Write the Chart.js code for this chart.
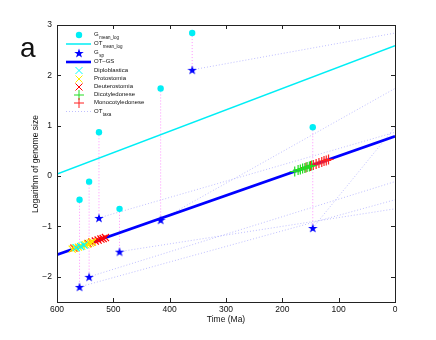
<!DOCTYPE html>
<html>
<head>
<meta charset="utf-8">
<script src="https://cdn.jsdelivr.net/npm/chart.js@4.4.0/dist/chart.umd.min.js"></script>
<style>
  html, body { margin: 0; padding: 0; background: #fff; }
  #wrap { position: relative; width: 436px; height: 340px; }
</style>
</head>
<body>
<div id="wrap"><canvas id="chart"></canvas></div>
<script>
// origin time of each taxon (Ma), mean log genome size today, and G_sp at origin
const originTimes = [560, 543, 525.5, 489, 416, 360, 146];
const gMeanLog = [-0.47, -0.11, 0.87, -0.65, 1.74, 2.84, 0.97];
const gSp = [-2.20, -2.00, -0.83, -1.50, -0.87, 2.11, -1.03];

// the two fitted lines, given at their ends
const fitTimes = [600, 0];
const otMeanLog = [0.04, 2.59];
const otGs = [-1.56, 0.79];

// species points along OT-GS
const diploTimes = [566, 558, 552];
const diploValues = [-1.42, -1.40, -1.37];
const protoTimes = [573, 568, 562, 556, 550, 546, 541, 537];
const protoValues = [-1.45, -1.43, -1.41, -1.39, -1.36, -1.35, -1.33, -1.31];
const deuteroTimes = [570, 545, 538, 532, 527, 522, 518, 514];
const deuteroValues = [-1.43, -1.34, -1.31, -1.29, -1.27, -1.25, -1.24, -1.22];
const dicotTimes = [178, 172, 168, 164, 160, 156, 152, 148];
const dicotValues = [0.09, 0.12, 0.13, 0.15, 0.16, 0.18, 0.19, 0.21];
const monocotTimes = [158, 150, 145, 140, 135, 130, 126, 122, 118];
const monocotValues = [0.17, 0.20, 0.22, 0.24, 0.26, 0.28, 0.30, 0.31, 0.33];

const xTicks = [600, 500, 400, 300, 200, 100, 0];
const yTicks = [-2, -1, 0, 1, 2, 3];

const legendLabels = [
  ['G', 'mean_log'], ['OT', 'mean_log'], ['G', 'sp'], ['OT\u2013GS', ''],
  ['Diploblastica', ''], ['Protostomia', ''], ['Deuterostomia', ''],
  ['Dicotyledonese', ''], ['Monocotyledonese', ''], ['OT', 'taxa']
];

const CYAN = 'rgb(0,238,245)';
const BLUE = '#0000ff';
const TAXA = 'rgba(170,170,255,0.75)';
const PINK = 'rgba(255,120,255,0.8)';
const FONT = '"Liberation Sans", Arial, Helvetica, sans-serif';

function pts(xs, ys) { return xs.map((x, i) => ({ x: x, y: ys[i] })); }

function starImage(size, color) {
  const c = document.createElement('canvas');
  c.width = c.height = size;
  const g = c.getContext('2d');
  g.fillStyle = color;
  g.beginPath();
  for (let i = 0; i < 10; i++) {
    const r = i % 2 ? size * 0.2 : size / 2;
    const a = -Math.PI / 2 + i * Math.PI / 5;
    g.lineTo(size / 2 + r * Math.cos(a), size / 2 + 0.5 + r * Math.sin(a));
  }
  g.closePath();
  g.fill();
  return c;
}
const star = starImage(10, BLUE);

const datasets = [];

// OT_taxa dotted lines: from (origin, G_sp) to (0, G_mean_log)
originTimes.forEach((t, i) => {
  datasets.push({
    data: [{ x: t, y: gSp[i] }, { x: 0, y: gMeanLog[i] }],
    showLine: true, borderColor: TAXA, borderWidth: 1, borderDash: [1, 2],
    pointRadius: 0, order: 9
  });
  // pink connectors between G_mean_log and G_sp
  datasets.push({
    data: [{ x: t, y: gMeanLog[i] }, { x: t, y: gSp[i] }],
    showLine: true, borderColor: PINK, borderWidth: 1, borderDash: [1, 2],
    pointRadius: 0, order: 8
  });
});

datasets.push({
  data: pts(fitTimes, otMeanLog), showLine: true, borderColor: CYAN,
  borderWidth: 1.5, pointRadius: 0, order: 6
});
datasets.push({
  data: pts(fitTimes, otGs), showLine: true, borderColor: BLUE,
  borderWidth: 2.6, pointRadius: 0, order: 6
});
datasets.push({
  data: pts(originTimes, gMeanLog), pointStyle: 'circle', pointRadius: 3.2,
  backgroundColor: CYAN, borderColor: CYAN, borderWidth: 0, order: 2
});
datasets.push({
  data: pts(originTimes, gSp), pointStyle: star, order: 2
});

function markers(xs, ys, style, r, color) {
  return {
    data: pts(xs, ys), pointStyle: style, pointRadius: r,
    borderColor: color, backgroundColor: color, pointBorderWidth: 1.2, order: 1
  };
}
datasets.push(markers(diploTimes, diploValues, 'crossRot', 5, '#00ffff'));
datasets.push(markers(protoTimes, protoValues, 'crossRot', 5, '#ffee00'));
datasets.push(markers(deuteroTimes, deuteroValues, 'crossRot', 5, '#ff0000'));
datasets.push(markers(dicotTimes, dicotValues, 'cross', 5, '#22dd22'));
datasets.push(markers(monocotTimes, monocotValues, 'cross', 5, '#ff2020'));

const framePlugin = {
  id: 'frame',
  afterDraw(chart) {
    const { ctx, chartArea: a, scales } = chart;
    ctx.save();
    ctx.strokeStyle = '#222';
    ctx.lineWidth = 1;
    ctx.strokeRect(Math.round(a.left) + 0.5, Math.round(a.top) + 0.5,
      Math.round(a.right - a.left), Math.round(a.bottom - a.top));
    ctx.beginPath();
    xTicks.forEach(v => {
      const x = Math.round(scales.x.getPixelForValue(v)) + 0.5;
      ctx.moveTo(x, a.bottom); ctx.lineTo(x, a.bottom - 4);
      ctx.moveTo(x, a.top); ctx.lineTo(x, a.top + 4);
    });
    yTicks.forEach(v => {
      const y = Math.round(scales.y.getPixelForValue(v)) + 0.5;
      ctx.moveTo(a.left, y); ctx.lineTo(a.left + 4, y);
      ctx.moveTo(a.right, y); ctx.lineTo(a.right - 4, y);
    });
    ctx.stroke();

    // axis titles and panel letter
    ctx.fillStyle = '#111';
    ctx.font = '8.5px ' + FONT;
    ctx.textAlign = 'center';
    ctx.textBaseline = 'middle';
    ctx.fillText('Time (Ma)', (a.left + a.right) / 2, 320);
    ctx.save();
    ctx.translate(36, 164);
    ctx.rotate(-Math.PI / 2);
    ctx.fillText('Logarithm of genome size', 0, 0);
    ctx.restore();
    ctx.font = '28px ' + FONT;
    ctx.textAlign = 'left';
    ctx.textBaseline = 'alphabetic';
    ctx.fillText('a', 20, 57);

    // legend
    const rows = [35, 44, 53, 62, 70.5, 79, 87, 95, 103, 111.5];
    const sx = 79;
    rows.forEach((y, i) => {
      ctx.save();
      if (i === 0) {
        ctx.fillStyle = CYAN; ctx.beginPath(); ctx.arc(sx, y, 3.2, 0, Math.PI * 2); ctx.fill();
      } else if (i === 1 || i === 3) {
        ctx.strokeStyle = i === 1 ? CYAN : BLUE; ctx.lineWidth = i === 1 ? 1.5 : 2.6;
        ctx.beginPath(); ctx.moveTo(66, y); ctx.lineTo(91, y); ctx.stroke();
      } else if (i === 2) {
        ctx.drawImage(star, sx - 5, y - 5);
      } else if (i >= 4 && i <= 6) {
        ctx.strokeStyle = ['#00ffff', '#ffee00', '#ff0000'][i - 4]; ctx.lineWidth = 1;
        ctx.beginPath();
        ctx.moveTo(sx - 3.5, y - 3.5); ctx.lineTo(sx + 3.5, y + 3.5);
        ctx.moveTo(sx - 3.5, y + 3.5); ctx.lineTo(sx + 3.5, y - 3.5);
        ctx.stroke();
      } else if (i === 7 || i === 8) {
        ctx.strokeStyle = i === 7 ? '#22dd22' : '#ff2020'; ctx.lineWidth = 1;
        ctx.beginPath();
        ctx.moveTo(sx - 5, y); ctx.lineTo(sx + 5, y);
        ctx.moveTo(sx, y - 5); ctx.lineTo(sx, y + 5);
        ctx.stroke();
      } else {
        ctx.strokeStyle = TAXA; ctx.lineWidth = 1; ctx.setLineDash([1, 2]);
        ctx.beginPath(); ctx.moveTo(66, y); ctx.lineTo(91, y); ctx.stroke();
      }
      ctx.restore();
      const [main, sub] = legendLabels[i];
      ctx.fillStyle = '#111';
      ctx.font = '6px ' + FONT;
      ctx.textBaseline = 'middle';
      ctx.fillText(main, 94, y - 0.5);
      if (sub) {
        const w = ctx.measureText(main).width;
        ctx.font = '4.5px ' + FONT;
        ctx.fillText(sub, 94 + w + 0.5, y + 3);
      }
    });
    ctx.restore();
  }
};

new Chart(document.getElementById('chart'), {
  type: 'scatter',
  data: { datasets: datasets },
  options: {
    responsive: true,
    maintainAspectRatio: false,
    animation: false,
    layout: { padding: { top: 25, right: 41, left: 0, bottom: 0 } },
    plugins: { legend: { display: false }, tooltip: { enabled: false } },
    scales: {
      x: {
        type: 'linear', reverse: true, min: 0, max: 600,
        afterBuildTicks: s => { s.ticks = xTicks.map(v => ({ value: v })); },
        afterFit: s => { s.height = 38; },
        grid: { display: false, drawTicks: false },
        border: { display: false },
        ticks: { padding: 3, color: '#111', font: { family: FONT, size: 8.5 }, maxRotation: 0 }
      },
      y: {
        type: 'linear', min: -2.5, max: 3,
        afterBuildTicks: s => { s.ticks = yTicks.map(v => ({ value: v })); },
        afterFit: s => { s.width = 57; },
        grid: { display: false, drawTicks: false },
        border: { display: false },
        ticks: {
          padding: 5, color: '#111', font: { family: FONT, size: 8.5 },
          callback: v => String(v).replace('-', '\u2212')
        }
      }
    }
  },
  plugins: [framePlugin]
});
</script>
</body>
</html>
